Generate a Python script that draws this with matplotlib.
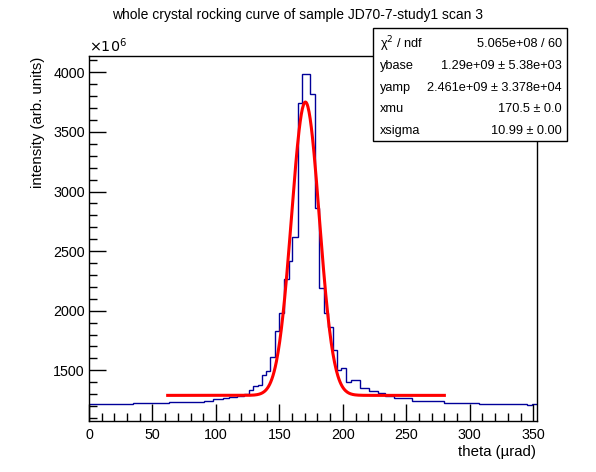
import numpy as np
import matplotlib
matplotlib.use("Agg")
import matplotlib.pyplot as plt
from matplotlib.patches import Rectangle

plt.rcParams['font.family'] = ['Liberation Sans', 'DejaVu Sans']

# histogram bin edges (theta, urad) and contents (x 1e6 arb. units)
edges = [0, 34.9, 63.4, 90.9, 98.0, 105.4, 110.0, 116.5, 122.2, 125.7, 129.6,
         133.5, 136.7, 139.6, 142.7, 146.9, 150.1, 154.0, 157.5, 160.3, 164.3,
         167.7, 174.5, 178.2, 181.6, 184.8, 188.5, 192.2, 195.8, 198.7, 202.7,
         206.4, 213.2, 220.3, 227.7, 233.4, 240.0, 254.5, 279.4, 307.0, 345.2,
         349.1, 353.0]
counts = [1217, 1225, 1234, 1245, 1256, 1267, 1275, 1287, 1300, 1334,
          1368, 1376, 1458, 1493, 1611, 1827, 1985, 2268, 2420, 2617,
          3746, 3987, 3822, 2864, 2193, 1983, 1866, 1671, 1505, 1519,
          1403, 1417, 1350, 1328, 1311, 1284, 1264, 1245, 1228, 1217,
          1209, 1217]

# fit parameters (x 1e6 for amplitudes)
ybase = 1290.0
yamp = 2461.0
xmu = 170.5
xsigma = 10.99
fit_range = (62, 280)

stat_names = ["\u03c7$^{2}$ / ndf", "ybase", "yamp", "xmu", "xsigma"]
stat_values = ["5.065e+08 / 60", "1.29e+09 \u00b1 5.38e+03",
               "2.461e+09 \u00b1 3.378e+04", "170.5 \u00b1 0.0", "10.99 \u00b1 0.00"]

fig = plt.figure(figsize=(5.96, 4.72), dpi=100)
ax = fig.add_axes([89 / 596, 1 - 421 / 472, 448 / 596, 365 / 472])

ax.stairs(counts, edges, baseline=None, color='#000099', lw=1.0)

xf = np.linspace(fit_range[0], fit_range[1], 500)
yf = ybase + yamp * np.exp(-0.5 * ((xf - xmu) / xsigma) ** 2)
ax.plot(xf, yf, color='red', lw=2.2)

ax.set_xlim(0, 353)
ax.set_ylim(1075, 4137)
ax.set_xticks(np.arange(0, 351, 50))
ax.set_xticks(np.arange(0, 353, 10), minor=True)
ax.set_yticks(np.arange(1500, 4001, 500))
ax.set_yticks(np.arange(1100, 4137, 100), minor=True)
ax.tick_params(direction='in', which='major', length=12, width=1, labelsize=10.3,
               top=False, right=False)
ax.tick_params(direction='in', which='minor', length=6, width=1,
               top=False, right=False)
ax.tick_params(axis='x', pad=5)
ax.tick_params(axis='y', pad=3)
for s in ax.spines.values():
    s.set_linewidth(1)

ax.text(0, 1.004, r"$\times10^{6}$", transform=ax.transAxes, fontsize=10.3,
        ha='left', va='bottom')

fig.text(1 - 60 / 596, 1 - 452 / 472, "theta (\u00b5rad)", ha='right',
         va='center', fontsize=10.8)
fig.text(38 / 596, 1 - 57 / 472, "intensity (arb. units)", rotation=90,
         ha='center', va='top', fontsize=10.8)
fig.text(0.5, 1 - 15 / 472, "whole crystal rocking curve of sample JD70-7-study1 scan 3",
         ha='center', va='center', fontsize=10)

# stats box
bx0, by0, bx1, by1 = 373 / 596, 1 - 141 / 472, 567 / 596, 1 - 28 / 472
fig.patches.append(Rectangle((bx0, by0), bx1 - bx0, by1 - by0,
                             transform=fig.transFigure, facecolor='white',
                             edgecolor='black', lw=1, zorder=5))
row_y = [44, 66, 88, 109, 131]
for name, val, ry in zip(stat_names, stat_values, row_y):
    fig.text(380 / 596, 1 - ry / 472, name, ha='left', va='center',
             fontsize=9.2, zorder=6)
    fig.text(562 / 596, 1 - ry / 472, val, ha='right', va='center',
             fontsize=9.2, zorder=6)

fig.savefig("out.png", dpi=100)
